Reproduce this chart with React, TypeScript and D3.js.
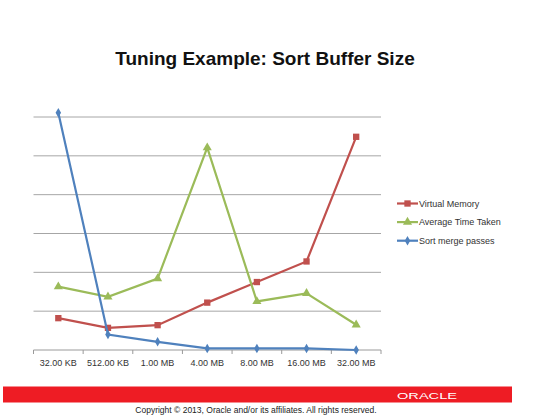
import React, { useEffect, useRef } from "react";
import * as d3 from "d3";

// buffer sizes on the x axis
const categories = ["32.00 KB", "512.00 KB", "1.00 MB", "4.00 MB", "8.00 MB", "16.00 MB", "32.00 MB"];

// series values (unlabelled y axis, read in gridline units)
const virtualMemory = [0.82, 0.57, 0.64, 1.22, 1.75, 2.28, 5.49];
const avgTimeTaken = [1.63, 1.37, 1.84, 5.21, 1.25, 1.46, 0.65];
const sortMergePasses = [6.11, 0.4, 0.21, 0.04, 0.04, 0.04, 0.0];

const yTicks = [0, 1, 2, 3, 4, 5, 6];

const seriesNames = ["Virtual Memory", "Average Time Taken", "Sort merge passes"];

const W = 540;
const H = 416;

const App: React.FC = () => {
  const svgRef = useRef<SVGSVGElement | null>(null);

  useEffect(() => {
    const svg = d3.select(svgRef.current);
    svg.selectAll("*").remove();

    svg.append("rect").attr("width", W).attr("height", H).attr("fill", "#fff");

    // title
    svg
      .append("text")
      .attr("x", 265)
      .attr("y", 65)
      .attr("text-anchor", "middle")
      .style("font-family", "Liberation Sans, Arial, sans-serif")
      .style("font-weight", "bold")
      .style("font-size", "19px")
      .attr("fill", "#111")
      .text("Tuning Example: Sort Buffer Size");

    const x = d3.scaleBand().domain(categories).range([33.5, 381]);
    const y = d3.scaleLinear().domain([0, 6]).range([350, 117]);

    // gridlines
    svg
      .append("g")
      .selectAll("line")
      .data(yTicks.slice(1))
      .enter()
      .append("line")
      .attr("x1", 33.5)
      .attr("x2", 381)
      .attr("y1", (d) => y(d))
      .attr("y2", (d) => y(d))
      .attr("stroke", "#a6a6a6")
      .attr("stroke-width", 1);

    // x axis
    const xAxis = svg.append("g").attr("transform", `translate(0,${y(0)})`);
    xAxis
      .append("line")
      .attr("x1", 33.5)
      .attr("x2", 381)
      .attr("stroke", "#9a9a9a")
      .attr("stroke-width", 1);
    const bounds = categories.map((c) => x(c)!).concat([381]);
    xAxis
      .selectAll("line.tick")
      .data(bounds)
      .enter()
      .append("line")
      .attr("class", "tick")
      .attr("x1", (d) => d)
      .attr("x2", (d) => d)
      .attr("y1", 0)
      .attr("y2", 4)
      .attr("stroke", "#9a9a9a");
    xAxis
      .selectAll("text")
      .data(categories)
      .enter()
      .append("text")
      .attr("x", (d) => x(d)! + x.bandwidth() / 2)
      .attr("y", 16)
      .attr("text-anchor", "middle")
      .style("font-family", "Liberation Sans, Arial, sans-serif")
      .style("font-size", "9px")
      .attr("fill", "#333")
      .text((d) => d);

    const series = [
      { name: seriesNames[0], values: virtualMemory, color: "#c0504d", symbol: d3.symbolSquare, size: 40 },
      { name: seriesNames[1], values: avgTimeTaken, color: "#9bbb59", symbol: d3.symbolTriangle, size: 36 },
      { name: seriesNames[2], values: sortMergePasses, color: "#4f81bd", symbol: d3.symbolDiamond, size: 26 },
    ];

    const line = d3
      .line<number>()
      .x((d, i) => x(categories[i])! + x.bandwidth() / 2)
      .y((d) => y(d));

    series.forEach((s) => {
      const g = svg.append("g");
      g.append("path")
        .attr("d", line(s.values))
        .attr("fill", "none")
        .attr("stroke", s.color)
        .attr("stroke-width", 2.2);
      g.selectAll("path.m")
        .data(s.values)
        .enter()
        .append("path")
        .attr("class", "m")
        .attr("transform", (d, i) => `translate(${x(categories[i])! + x.bandwidth() / 2},${y(d)})`)
        .attr("d", d3.symbol().type(s.symbol).size(s.size)() as string)
        .attr("fill", s.color);
    });

    // legend
    const legend = svg.append("g");
    series.forEach((s, i) => {
      const ly = 203.5 + i * 18.6;
      legend
        .append("line")
        .attr("x1", 397)
        .attr("x2", 418)
        .attr("y1", ly)
        .attr("y2", ly)
        .attr("stroke", s.color)
        .attr("stroke-width", 2.2);
      legend
        .append("path")
        .attr("transform", `translate(407.5,${ly})`)
        .attr("d", d3.symbol().type(s.symbol).size(s.size)() as string)
        .attr("fill", s.color);
      legend
        .append("text")
        .attr("x", 419)
        .attr("y", ly + 3.2)
        .style("font-family", "Liberation Sans, Arial, sans-serif")
        .style("font-size", "9px")
        .attr("fill", "#333")
        .text(s.name);
    });

    // footer bar
    svg.append("rect").attr("x", 3).attr("y", 386.5).attr("width", 509).attr("height", 16).attr("fill", "#ee1c24");
    svg
      .append("text")
      .attr("x", 397)
      .attr("y", 398.5)
      .attr("textLength", 60)
      .attr("lengthAdjust", "spacingAndGlyphs")
      .style("font-family", "Liberation Sans, Arial, sans-serif")
      .style("font-size", "9px")
      .attr("fill", "#fff")
      .text("ORACLE");
    svg
      .append("text")
      .attr("x", 256)
      .attr("y", 412.5)
      .attr("text-anchor", "middle")
      .style("font-family", "Liberation Sans, Arial, sans-serif")
      .style("font-size", "8.5px")
      .attr("fill", "#222")
      .text("Copyright © 2013, Oracle and/or its affiliates. All rights reserved.");
  }, []);

  return <svg ref={svgRef} width={W} height={H} style={{ position: "absolute", left: 0, top: 0 }}></svg>;
};

export default App;
